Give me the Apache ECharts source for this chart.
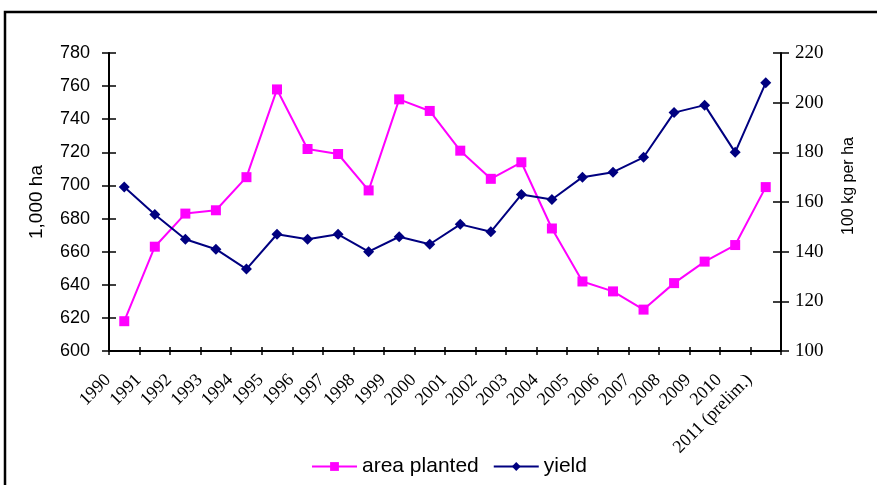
<!DOCTYPE html>
<html>
<head>
<meta charset="utf-8">
<script src="https://cdn.jsdelivr.net/npm/echarts@6/dist/echarts.min.js"></script>
<style>
  html, body { margin: 0; padding: 0; background: #fff; }
  #chart { width: 877px; height: 485px; }
</style>
</head>
<body>
<div id="chart"></div>
<script>
// Rice: area planted (1,000 ha, left axis) and yield (100 kg per ha, right axis)
const years = ['1990', '1991', '1992', '1993', '1994', '1995', '1996', '1997', '1998', '1999',
  '2000', '2001', '2002', '2003', '2004', '2005', '2006', '2007', '2008', '2009', '2010',
  '2011 (prelim.)'];
const areaPlanted = [618, 663, 683, 685, 705, 758, 722, 719, 697, 752,
  745, 721, 704, 714, 674, 642, 636, 625, 641, 654, 664, 699];
const yieldValues = [166, 155, 145, 141, 133, 147, 145, 147, 140, 146,
  143, 151, 148, 163, 161, 170, 172, 178, 196, 199, 180, 208];

const areaAxis = { min: 600, max: 780, interval: 20, title: '1,000 ha' };
const yieldAxis = { min: 100, max: 220, interval: 20, title: '100 kg per ha' };
const seriesNames = ['area planted', 'yield'];

const chart = echarts.init(document.getElementById('chart'), null, { renderer: 'canvas' });

const axisLineStyle = { color: '#000', width: 2 };
const tickLineStyle = { color: '#000', width: 1.5 };

// Each axis is doubled (outside + inside ticks) so the tick marks cross the axis line
function valueAxis(cfg, side, inside, labelFont, labelSize) {
  const main = !inside;
  return {
    type: 'value',
    position: side,
    min: cfg.min,
    max: cfg.max,
    interval: cfg.interval,
    name: main ? cfg.title : '',
    nameLocation: 'middle',
    nameGap: side === 'left' ? 63 : 60,
    nameTextStyle: side === 'left'
      ? { fontFamily: 'Liberation Sans', fontSize: 19, color: '#000' }
      : { fontFamily: 'Liberation Sans', fontSize: 16, color: '#000', padding: [0, 0, 0, 32] },
    axisLine: { show: main, lineStyle: axisLineStyle },
    axisTick: { show: true, inside: inside, length: side === 'left' ? 7 : 8, lineStyle: tickLineStyle },
    axisLabel: {
      show: main,
      margin: side === 'left' ? 19 : 14,
      fontFamily: labelFont,
      fontSize: labelSize,
      color: '#000'
    },
    splitLine: { show: false }
  };
}

function categoryAxis(inside) {
  const main = !inside;
  return {
    type: 'category',
    data: years,
    position: 'bottom',
    boundaryGap: true,
    axisLine: { show: main, onZero: false, lineStyle: axisLineStyle },
    axisTick: { show: true, inside: inside, length: 4, lineStyle: tickLineStyle },
    axisLabel: {
      show: main,
      interval: 0,
      rotate: 45,
      margin: 10,
      padding: [0, 23, 0, 0],
      fontFamily: 'Liberation Serif',
      fontSize: 18,
      color: '#000'
    },
    splitLine: { show: false }
  };
}

chart.setOption({
  animation: false,
  backgroundColor: '#fff',
  graphic: [{
    type: 'rect',
    shape: { x: 5, y: 12, width: 920, height: 520 },
    style: { fill: 'none', stroke: '#000', lineWidth: 2.5 },
    silent: true,
    z: -1
  }],
  grid: { left: 109, right: 96, top: 53, bottom: 134, containLabel: false },
  legend: {
    data: seriesNames,
    left: 306,
    top: 451,
    itemWidth: 45,
    itemHeight: 11,
    itemGap: 14,
    textStyle: { fontFamily: 'Liberation Sans', fontSize: 21, color: '#000' }
  },
  xAxis: [categoryAxis(false), categoryAxis(true)],
  yAxis: [
    valueAxis(areaAxis, 'left', false, 'Liberation Sans', 18),
    valueAxis(areaAxis, 'left', true, 'Liberation Sans', 18),
    valueAxis(yieldAxis, 'right', false, 'Liberation Serif', 19),
    valueAxis(yieldAxis, 'right', true, 'Liberation Serif', 19)
  ],
  series: [
    {
      name: seriesNames[0],
      type: 'line',
      yAxisIndex: 0,
      data: areaPlanted,
      symbol: 'rect',
      symbolSize: 10,
      color: '#FF00FF',
      lineStyle: { color: '#FF00FF', width: 2 },
      itemStyle: { color: '#FF00FF' }
    },
    {
      name: seriesNames[1],
      type: 'line',
      yAxisIndex: 2,
      data: yieldValues,
      symbol: 'diamond',
      symbolSize: 11,
      color: '#000080',
      lineStyle: { color: '#000080', width: 2 },
      itemStyle: { color: '#000080' }
    }
  ]
});
</script>
</body>
</html>
